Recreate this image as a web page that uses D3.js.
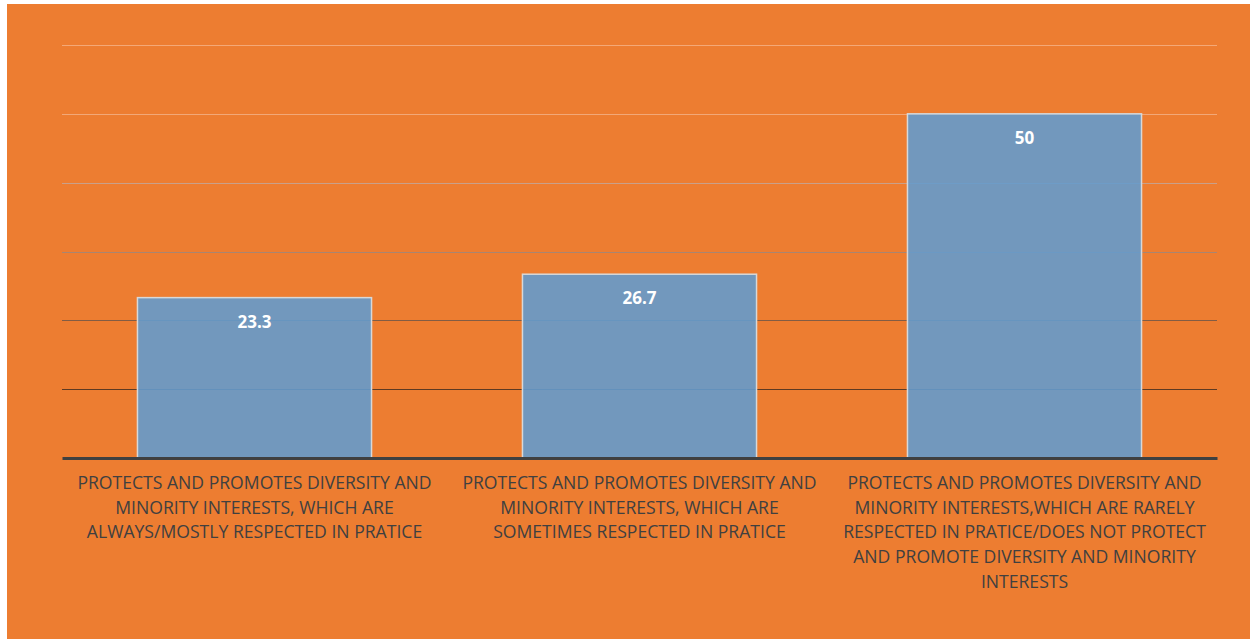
<!DOCTYPE html>
<html>
<head>
<meta charset="utf-8">
<script src="https://cdn.jsdelivr.net/npm/d3@7"></script>
<style>
  html, body { margin: 0; padding: 0; background: #ffffff; }
  svg { display: block; }
</style>
</head>
<body>
<svg id="chart" width="1250" height="639"></svg>
<script>
// Category labels, already broken into the lines they are shown on
const categories = [
  ["PROTECTS AND PROMOTES DIVERSITY AND", "MINORITY INTERESTS, WHICH ARE", "ALWAYS/MOSTLY RESPECTED IN PRATICE"],
  ["PROTECTS AND PROMOTES DIVERSITY AND", "MINORITY INTERESTS, WHICH ARE", "SOMETIMES RESPECTED IN PRATICE"],
  ["PROTECTS AND PROMOTES DIVERSITY AND", "MINORITY INTERESTS,WHICH ARE RARELY", "RESPECTED IN PRATICE/DOES NOT PROTECT", "AND PROMOTE DIVERSITY AND MINORITY", "INTERESTS"]
];
const values = [23.3, 26.7, 50];
const valueLabels = ["23.3", "26.7", "50"];
const gridTicks = [10, 20, 30, 40, 50, 60];

const svg = d3.select("#chart");

// Orange chart area
svg.append("rect")
  .attr("x", 7).attr("y", 4)
  .attr("width", 1243).attr("height", 635)
  .attr("fill", "#ED7D31");

const plot = { left: 62, right: 1217, top: 45, bottom: 458 };

const x = d3.scaleBand()
  .domain(d3.range(values.length))
  .range([plot.left, plot.right])
  .paddingInner(0.392)
  .paddingOuter(0.196);

const y = d3.scaleLinear()
  .domain([0, 60])
  .range([plot.bottom, plot.top]);

// Gridlines fade from pale at the top to dark brown near the axis
const gridColor = d3.scaleLinear()
  .domain([60, 50, 40, 30, 20, 10])
  .range(["#F4A877", "#F2A878", "#C9A08A", "#A98570", "#825C44", "#5E3A22"]);

svg.append("g")
  .selectAll("line")
  .data(gridTicks)
  .join("line")
  .attr("x1", plot.left).attr("x2", plot.right)
  .attr("y1", d => Math.round(y(d)) + 0.5)
  .attr("y2", d => Math.round(y(d)) + 0.5)
  .attr("stroke", d => gridColor(d))
  .attr("stroke-width", 1.2);

// Bars (slightly see-through, so gridlines show faintly)
svg.append("g")
  .selectAll("rect")
  .data(values)
  .join("rect")
  .attr("x", (d, i) => x(i))
  .attr("y", d => y(d))
  .attr("width", x.bandwidth())
  .attr("height", d => y(0) - y(d))
  .attr("fill", "#649BCD")
  .attr("fill-opacity", 0.9)
  .attr("stroke", "#D8D8D8")
  .attr("stroke-width", 1.5);

// Value labels inside the bars
svg.append("g")
  .selectAll("text")
  .data(values)
  .join("text")
  .attr("x", (d, i) => x(i) + x.bandwidth() / 2)
  .attr("y", d => y(d) + 30)
  .attr("text-anchor", "middle")
  .attr("font-family", "'Open Sans', 'Noto Sans', sans-serif")
  .attr("font-weight", "bold")
  .attr("font-size", 17)
  .attr("fill", "#ffffff")
  .text((d, i) => valueLabels[i]);

// Category axis
const xAxis = svg.append("g")
  .attr("transform", `translate(0,${plot.bottom})`)
  .call(d3.axisBottom(x).tickSize(0).tickFormat(""));
xAxis.select(".domain")
  .attr("stroke", "#404040")
  .attr("stroke-width", 3);

const catLabels = svg.append("g")
  .selectAll("text")
  .data(categories)
  .join("text")
  .attr("text-anchor", "middle")
  .attr("font-family", "'Open Sans', 'Noto Sans', sans-serif")
  .attr("font-size", 17.6)
  .attr("fill", "#404040");

catLabels.each(function(lines, i) {
  const t = d3.select(this);
  const cx = x(i) + x.bandwidth() / 2;
  lines.forEach((line, k) => {
    t.append("tspan")
      .attr("x", cx)
      .attr("y", plot.bottom + 31 + k * 24.7)
      .text(line);
  });
});
</script>
</body>
</html>
